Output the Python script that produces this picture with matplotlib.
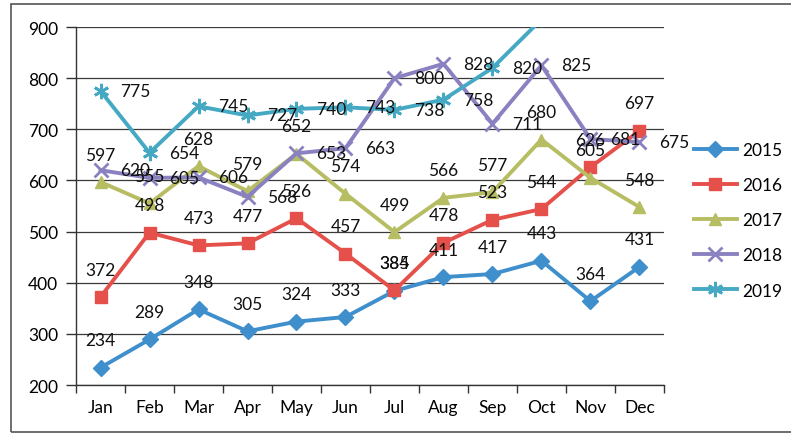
import numpy as np
import matplotlib
matplotlib.use("Agg")
import matplotlib.pyplot as plt
from matplotlib.patches import Rectangle

months = ["Jan", "Feb", "Mar", "Apr", "May", "Jun",
          "Jul", "Aug", "Sep", "Oct", "Nov", "Dec"]
years = ["2015", "2016", "2017", "2018", "2019"]

v2015 = [234, 289, 348, 305, 324, 333, 384, 411, 417, 443, 364, 431]
v2016 = [372, 498, 473, 477, 526, 457, 385, 478, 523, 544, 626, 697]
v2017 = [597, 555, 628, 579, 652, 574, 499, 566, 577, 680, 605, 548]
v2018 = [620, 605, 606, 568, 653, 663, 800, 828, 711, 825, 681, 675]
v2019 = [775, 654, 745, 727, 740, 743, 738, 758, 820, 915, 950, 990]

plt.rcParams['font.family'] = ['Lato', 'DejaVu Sans']

colors = ["#3f8fcc", "#e5504b", "#b7bd63", "#8a82c0", "#45a9c4"]
markers = ["D", "s", "^", "x", (6, 2, 0)]
sizes = [8, 9, 9, 10, 11]
# where the data labels sit: above the point or to its right
label_side = ["up", "up", "up", "right", "right"]
series = [v2015, v2016, v2017, v2018, v2019]

fig = plt.figure(figsize=(7.91, 4.39), dpi=100)
ax = fig.add_axes([0.0961, 0.1207, 0.7433, 0.8155])

x = np.arange(len(months))
for vals, name, c, m, ms, side in zip(series, years, colors, markers, sizes, label_side):
    ax.plot(x, vals, color=c, lw=2.8, marker=m, ms=ms, mew=2 if m in ("x", (6, 2, 0)) else 1,
            mec=c, mfc=c, label=name, zorder=3)
    for xi, v in zip(x, vals):
        if side == "up":
            ax.annotate(str(v), (xi, v), xytext=(0, 14), textcoords="offset points",
                        ha="center", va="bottom", fontsize=12.5, color="#111111", zorder=5)
        else:
            ax.annotate(str(v), (xi, v), xytext=(25, 0), textcoords="offset points",
                        ha="center", va="center", fontsize=12.5, color="#111111", zorder=5)

ax.set_xlim(-0.5, 11.5)
ax.set_ylim(200, 900)
ax.set_yticks(np.arange(200, 901, 100))
ax.set_xticks(x)
ax.set_xticklabels(months)
ax.set_xticks(np.arange(-0.5, 12, 1), minor=True)
ax.tick_params(axis="x", which="major", length=0, pad=10, labelsize=12.5)
ax.tick_params(axis="x", which="minor", length=6, color="#333333", width=1)
ax.tick_params(axis="y", length=7, color="#333333", width=1, pad=6, labelsize=12.5)
ax.grid(axis="y", color="#3a3a3a", lw=0.9)
ax.set_axisbelow(True)
for s in ["top", "right"]:
    ax.spines[s].set_visible(False)
for s in ["left", "bottom"]:
    ax.spines[s].set_color("#333333")
    ax.spines[s].set_linewidth(1)

ax.legend(loc="upper left", bbox_to_anchor=(0.877, 0.674), bbox_transform=fig.transFigure,
          frameon=False, fontsize=12.5, labelspacing=1.1, handlelength=2.5,
          handletextpad=0.3, borderpad=0, borderaxespad=0)

fig.patches.append(Rectangle((11 / 791, 6 / 439), 1.0, 428 / 439, transform=fig.transFigure,
                             fill=False, edgecolor="#555555", lw=1.2))

fig.savefig("out.png", dpi=100)
